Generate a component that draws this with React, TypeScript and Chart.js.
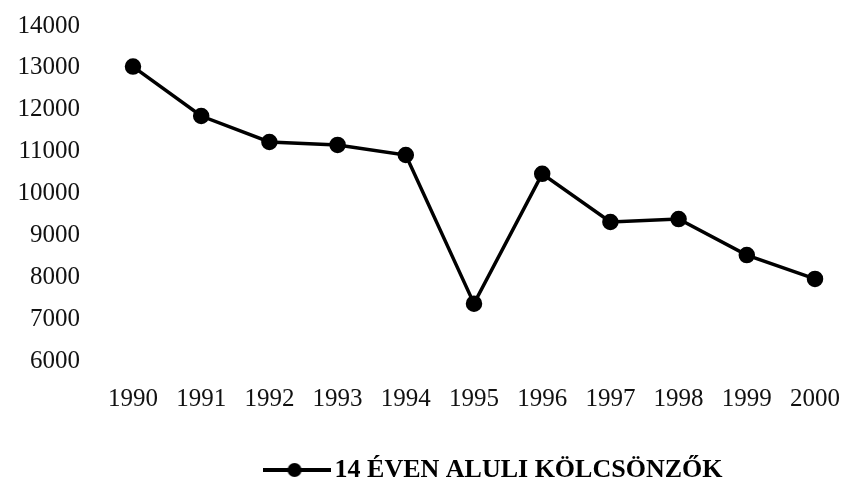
import React, { useEffect, useRef } from "react";
import { Chart, registerables } from "chart.js";

Chart.register(...registerables);

const years = ["1990", "1991", "1992", "1993", "1994", "1995", "1996", "1997", "1998", "1999", "2000"];
const borrowers = [13030, 11850, 11230, 11160, 10920, 7370, 10470, 9320, 9390, 8530, 7960];
const yMin = 6000;
const yMax = 14000;
const yStep = 1000;
const seriesLabel = "14 ÉVEN ALULI KÖLCSÖNZŐK";

const FONT = "'Liberation Serif', 'Times New Roman', serif";
const CANVAS_W = 978;
const CANVAS_H = 485;

function makeLegendMarker(): HTMLCanvasElement {
  const c = document.createElement("canvas");
  c.width = 68;
  c.height = 16;
  const ctx = c.getContext("2d")!;
  ctx.strokeStyle = "#000";
  ctx.lineWidth = 4;
  ctx.beginPath();
  ctx.moveTo(0, 8);
  ctx.lineTo(68, 8);
  ctx.stroke();
  ctx.fillStyle = "#000";
  ctx.beginPath();
  ctx.arc(32, 8, 7, 0, Math.PI * 2);
  ctx.fill();
  return c;
}

export default function App() {
  const ref = useRef<HTMLCanvasElement | null>(null);

  useEffect(() => {
    if (!ref.current) return;
    const marker = makeLegendMarker();
    const chart = new Chart(ref.current, {
      type: "line",
      data: {
        labels: years,
        datasets: [
          {
            label: seriesLabel,
            data: borrowers,
            borderColor: "#000",
            backgroundColor: "#000",
            borderWidth: 3.5,
            pointRadius: 6.5,
            pointBackgroundColor: "#000",
            pointBorderColor: "#000",
            pointStyle: "circle",
            tension: 0,
            yAxisID: "y",
          },
        ],
      },
      options: {
        responsive: false,
        animation: false,
        layout: { padding: { top: 0, bottom: 0 } },
        plugins: {
          tooltip: { enabled: false },
          legend: {
            position: "bottom",
            labels: {
              usePointStyle: true,
              pointStyleWidth: 50,
              boxHeight: 16,
              padding: 10,
              color: "#000",
              font: { family: FONT, size: 26, weight: "bold" },
              generateLabels: (chart: any) =>
                chart.data.datasets.map((ds: any, i: number) => ({
                  text: ds.label,
                  pointStyle: marker,
                  fillStyle: "#000",
                  strokeStyle: "#000",
                  lineWidth: 0,
                  hidden: false,
                  datasetIndex: i,
                  fontColor: "#000",
                })),
            },
          },
        },
        scales: {
          x: {
            type: "category",
            offset: false,
            grid: { display: false, drawTicks: false },
            border: { display: false },
            ticks: {
              color: "#111",
              padding: 23,
              maxRotation: 0,
              autoSkip: false,
              font: { family: FONT, size: 25 },
            },
            afterFit: (s: any) => {
              s.height = 86;
            },
          },
          y: {
            position: "left",
            min: yMin,
            max: yMax,
            grid: { display: false, drawTicks: false },
            border: { display: false },
            ticks: {
              stepSize: yStep,
              color: "#111",
              padding: 53,
              font: { family: FONT, size: 25 },
              callback: (v: any) => String(v),
            },
            afterFit: (s: any) => {
              s.width = 125;
              s.paddingTop = 18;
              s.paddingBottom = 16;
            },
          },
          yRight: {
            position: "right",
            display: true,
            grid: { display: false, drawTicks: false },
            border: { display: false },
            ticks: { display: false },
            afterFit: (s: any) => {
              s.width = 171;
            },
          },
        },
      },
    });
    return () => chart.destroy();
  }, []);

  return (
    <div
      style={{
        position: "fixed",
        left: 8,
        top: 8,
        width: 836,
        height: 477,
        overflow: "hidden",
        background: "#fff",
      }}
    >
      <canvas ref={ref} width={CANVAS_W} height={CANVAS_H} style={{ display: "block" }} />
    </div>
  );
}
